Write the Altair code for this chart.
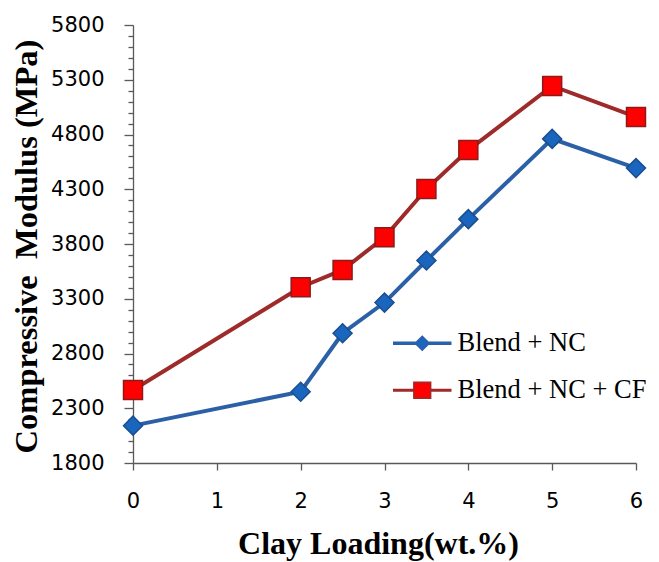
import altair as alt
import pandas as pd

# ---- data ----
clay = [0, 2, 2.5, 3, 3.5, 4, 5, 6]
blend_nc = [2141, 2451, 2985, 3265, 3649, 4027, 4760, 4493]
blend_nc_cf = [2467, 3405, 3563, 3862, 4302, 4658, 5243, 4960]
series_names = ["Blend + NC", "Blend + NC + CF"]

x_tick_values = [0, 0.5, 1, 1.5, 2, 2.5, 3, 3.5, 4, 4.5, 5, 5.5, 6]
y_tick_values = list(range(1800, 5801, 100))

line_colors = ["#2B60A6", "#9E2A2A"]
marker_fill = ["#1A66BE", "#FF0000"]
marker_stroke = ["#1B4E8E", "#8C1A1A"]
marker_shapes = ["diamond", "square"]

rows = []
for name, vals in zip(series_names, [blend_nc, blend_nc_cf]):
    for xv, yv in zip(clay, vals):
        rows.append({"clay": xv, "modulus": yv, "series": name, "marker": name})
df = pd.DataFrame(rows)

axis_color = "#595959"

x_axis = alt.Axis(
    values=x_tick_values,
    format="d",
    labelExpr="datum.value % 1 == 0 ? datum.label : ''",
    grid=False,
    domainColor=axis_color,
    domainWidth=1.3,
    tickColor=axis_color,
    tickWidth=1.3,
    tickSize=7,
    labelFont="DejaVu Sans",
    labelFontSize=21,
    labelColor="black",
    labelPadding=20,
    labelOverlap=False,
    labelFlush=False,
    title="Clay Loading(wt.%)",
    titleFont="Liberation Serif",
    titleFontSize=32,
    titleFontWeight="bold",
    titleColor="black",
    titleX=245,
    titleY=90,
    titleBaseline="alphabetic",
)

y_axis = alt.Axis(
    values=y_tick_values,
    labelExpr="(datum.value - 1800) % 500 == 0 ? datum.label : ''",
    format="d",
    grid=False,
    domainColor=axis_color,
    domainWidth=1.3,
    tickColor=axis_color,
    tickWidth=1.3,
    tickSize={"condition": {"test": "(datum.value - 1800) % 500 == 0", "value": 9}, "value": 5},
    labelFont="DejaVu Sans",
    labelFontSize=21,
    labelColor="black",
    labelPadding=20,
    labelOverlap=False,
    labelFlush=False,
    title="Compressive\u00a0 Modulus (MPa)",
    titleFont="Liberation Serif",
    titleFontSize=32.5,
    titleFontWeight="bold",
    titleColor="black",
    titleX=-107,
    titleY=221,
    titleBaseline="middle",
)

# legend glyphs: line with marker in the middle
diamond_path = ("M-4.07,-0.14L-0.86,-0.14L0,-1L0.86,-0.14L4.07,-0.14L4.07,0.14"
                "L0.86,0.14L0,1L-0.86,0.14L-4.07,0.14Z")
square_path = ("M-4.07,-0.12L-1.2,-0.12L-1.2,-1.15L1.2,-1.15L1.2,-0.12L4.07,-0.12L4.07,0.12"
               "L1.2,0.12L1.2,1.15L-1.2,1.15L-1.2,0.12L-4.07,0.12Z")
legend_shapes = [diamond_path, square_path]

legend = alt.Legend(
    orient="none",
    legendX=276,
    legendY=305,
    title=None,
    padding=0,
    symbolSize=196,
    symbolStrokeWidth=1.5,
    labelFont="Liberation Serif",
    labelFontSize=26.5,
    labelColor="black",
    labelOffset=22,
    labelLimit=400,
    rowPadding=20,
)

base = alt.Chart(df).encode(
    x=alt.X("clay:Q", scale=alt.Scale(domain=[0, 6], nice=False, zero=False), axis=x_axis),
    y=alt.Y("modulus:Q", scale=alt.Scale(domain=[1800, 5800], nice=False, zero=False), axis=y_axis),
)

lines = base.mark_line(strokeWidth=4).encode(
    color=alt.Color("series:N", scale=alt.Scale(domain=series_names, range=line_colors), legend=None),
)

points = base.mark_point(filled=True, size=360, strokeWidth=1.5, opacity=1).encode(
    shape=alt.Shape("marker:N", scale=alt.Scale(domain=series_names, range=marker_shapes), legend=None),
    fill=alt.Fill("marker:N", scale=alt.Scale(domain=series_names, range=marker_fill), legend=None),
    stroke=alt.Stroke("marker:N", scale=alt.Scale(domain=series_names, range=marker_stroke), legend=None),
)

legend_layer = base.transform_filter("false").mark_point(filled=True, opacity=1, strokeWidth=1.5).encode(
    shape=alt.Shape("series:N", scale=alt.Scale(domain=series_names, range=legend_shapes), legend=legend),
    fill=alt.Fill("series:N", scale=alt.Scale(domain=series_names, range=marker_fill), legend=legend),
    stroke=alt.Stroke("series:N", scale=alt.Scale(domain=series_names, range=line_colors), legend=legend),
)

chart = (
    alt.layer(lines, points, legend_layer)
    .resolve_scale(shape="independent", fill="independent", stroke="independent")
    .properties(
        width=503,
        height=438,
        autosize=alt.AutoSizeParams(type="none"),
        padding={"left": 125, "top": 17, "right": 15, "bottom": 100},
        background="white",
    )
    .configure_view(stroke=None)
)

chart.save("out.html", embed_options={"renderer": "svg", "actions": False})
